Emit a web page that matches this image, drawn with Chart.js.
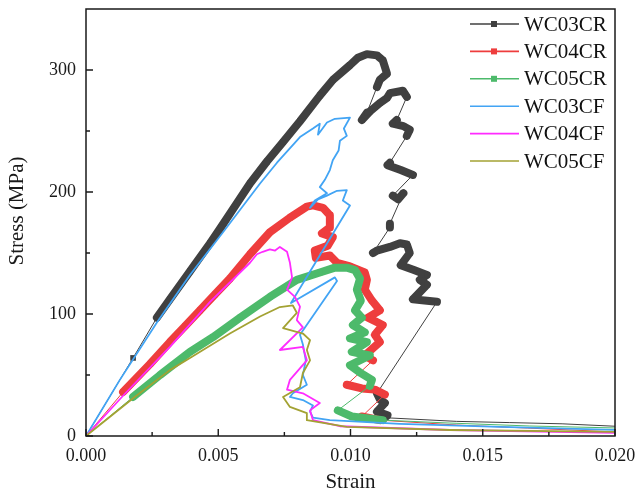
<!DOCTYPE html>
<html>
<head>
<meta charset="utf-8">
<script src="https://cdn.jsdelivr.net/npm/chart.js@4.4.0/dist/chart.umd.min.js"></script>
<style>
  html, body { margin: 0; padding: 0; background: #fff; }
  #wrap { width: 639px; height: 496px; }
</style>
</head>
<body>
<div id="wrap"><canvas id="chart" width="639" height="496"></canvas></div>
<script>
// ---- data (strain, stress in MPa) ----
var seriesNames = ['WC03CR', 'WC04CR', 'WC05CR', 'WC03CF', 'WC04CF', 'WC05CF'];

var wc03crStrain = [0, 0.00178, 0.00268, 0.00317, 0.00393, 0.00469, 0.0051, 0.00556, 0.0062, 0.00684, 0.00745, 0.00809, 0.00884, 0.00934, 0.00998, 0.01028, 0.01062, 0.0110, 0.01122, 0.01138, 0.01111, 0.0110,
  0.01062, 0.01043, 0.01073, 0.01111, 0.01138, 0.01149, 0.01198, 0.01213,
  0.01175, 0.0116, 0.0120, 0.01224, 0.01213,
  0.01149, 0.0114, 0.0119, 0.01236,
  0.0116, 0.0118, 0.0120,
  0.01149, 0.01149,
  0.01085, 0.0110, 0.01149, 0.01187, 0.01213, 0.01224, 0.0119, 0.0124, 0.01289, 0.01262, 0.01289, 0.01236, 0.0128, 0.01327,
  0.0110, 0.01111, 0.0113, 0.0110, 0.0114, 0.0113, 0.0140, 0.016, 0.018, 0.020];
var wc03crStress = [0, 64, 97, 112, 135, 158, 171, 186, 207, 225, 241, 258, 279, 292, 304, 310, 313, 312, 308, 297, 292, 286,
  265, 259, 266, 273, 277, 281, 283, 278,
  259, 256, 254, 251, 246,
  224, 222, 218, 214,
  197, 194, 199,
  174, 171,
  150, 152, 155, 158, 157, 150, 140, 136, 132, 128, 124, 112, 111, 110,
  35, 30, 27, 20, 17, 15, 12, 11, 10, 8];

var wc04crStrain = [0, 0.0014, 0.00242, 0.00317, 0.00374, 0.00431, 0.00487, 0.00544, 0.0062, 0.00695, 0.00771, 0.00835, 0.00858,
  0.00896, 0.00922, 0.00922, 0.00892, 0.00933, 0.00914, 0.00865, 0.00869, 0.00922, 0.00949, 0.00998, 0.01054, 0.01062, 0.01054,
  0.01081, 0.01111, 0.01066, 0.01122, 0.01092, 0.01111, 0.01054, 0.01085,
  0.00986, 0.01043, 0.01092, 0.0113,
  0.01043, 0.01111, 0.0140, 0.0167, 0.020];
var wc04crStress = [0, 36, 59, 77, 90, 103, 116, 129, 149, 167, 179, 188, 189,
  187, 181, 171, 166, 163, 156, 152, 146, 148, 142, 139, 134, 128, 120,
  111, 103, 97, 91, 83, 77, 66, 62,
  42, 39, 38, 34,
  16, 13, 9, 6.5, 3.3];

var wc05crStrain = [0, 0.00178, 0.0028, 0.00393, 0.0048, 0.00582, 0.00695, 0.00797, 0.00884, 0.00941, 0.00986, 0.01017, 0.01036,
  0.01024, 0.01039, 0.01017, 0.01043, 0.01009, 0.01054, 0.00998, 0.01062, 0.01005, 0.01073, 0.00998, 0.01036, 0.01081, 0.01073,
  0.00952, 0.01005, 0.01122, 0.01376, 0.01678, 0.020];
var wc05crStress = [0, 32, 50, 69, 81, 97, 114, 128, 134, 138, 138, 136, 129,
  120, 111, 103, 97, 91, 85, 80, 77, 69, 66, 58, 52, 46, 41,
  21, 16, 13, 10.6, 8.2, 6.6];

var wc03cfStrain = [0, 0.00128, 0.00268, 0.00393, 0.00518, 0.00658, 0.00722, 0.00809, 0.00858, 0.00884, 0.00877, 0.00911, 0.00941, 0.00998,
  0.00975, 0.00986, 0.0096, 0.00955, 0.00933, 0.00922, 0.00903, 0.00884, 0.00911, 0.00865, 0.00847,
  0.00877, 0.00911, 0.00949, 0.00986, 0.00971, 0.00998,
  0.00775, 0.00941, 0.00949,
  0.00809, 0.0082, 0.00831, 0.0082, 0.00835, 0.00782, 0.00771, 0.0082, 0.00858, 0.00847, 0.00858, 0.00922, 0.01187, 0.01565, 0.020];
var wc03cfStress = [0, 46, 93, 132, 167, 207, 224, 245, 252, 256, 247, 257, 260, 261,
  252, 246, 242, 234, 226, 218, 210, 204, 199, 193, 187,
  194, 197, 201, 201.5, 193, 189,
  109, 130, 127,
  83, 75, 62, 50, 42, 35, 32, 29.5, 25, 20, 15, 13, 10, 7.4, 5];

var wc04cfStrain = [0, 0.0014, 0.00317, 0.00469, 0.0062, 0.00646, 0.00668, 0.00695, 0.00715, 0.00733, 0.0076, 0.00771, 0.00779, 0.0076, 0.0079,
  0.00809, 0.00797, 0.0082, 0.00733, 0.0082, 0.00835, 0.00771, 0.0076, 0.0082, 0.00884, 0.00847, 0.00858, 0.0096, 0.01376, 0.020];
var wc04cfStress = [0, 33, 73, 110, 142, 149, 151, 153, 152, 155, 151, 142, 130, 120, 114,
  106, 95, 89, 70.5, 73, 62, 46, 38, 35, 27, 21, 13, 8, 4.9, 2.5];

var wc05cfStrain = [0, 0.00178, 0.00317, 0.00393, 0.00544, 0.00658, 0.00733, 0.00782, 0.00797, 0.00745, 0.0082, 0.00847, 0.00835,
  0.00847, 0.0082, 0.00809, 0.00745, 0.00771, 0.00835, 0.00835, 0.00986, 0.01376, 0.020];
var wc05cfStress = [0, 31, 54, 64, 84, 98, 105.7, 107, 101, 88.5, 84, 78.6, 70.5,
  62, 51.6, 40, 32, 23.8, 18.8, 13, 7.4, 4.9, 3.3];

var xTicks = [0, 0.005, 0.010, 0.015, 0.020];
var xMinorTicks = [0.0025, 0.0075, 0.0125, 0.0175];
var yTicks = [0, 100, 200, 300];
var yMinorTicks = [50, 150, 250];

// ---- styling ----
var colors = ['#404040', '#ee3d3d', '#4dba6b', '#42a4f4', '#ff2bff', '#a3a233'];
var serif = "'Liberation Serif', 'Times New Roman', serif";

function pts(xs, ys) {
  return xs.map(function(x, i) { return { x: x, y: ys[i] }; });
}

// dense parts of the CR curves show as a thick band of markers,
// the big unloading jumps are only the thin connecting line
function bandWidth(c) {
  if (c.p0DataIndex === 0) return 1;
  var dx = c.p1.x - c.p0.x, dy = c.p1.y - c.p0.y;
  if (dy > 16 || Math.sqrt(dx * dx + dy * dy) > 45) return 1;
  return 8;
}

// no visible markers on the long residual tail
function markerSize(c) {
  var p = c.raw;
  return p && p.x > 0.0135 ? 0 : 4;
}

var allData = [
  pts(wc03crStrain, wc03crStress),
  pts(wc04crStrain, wc04crStress),
  pts(wc05crStrain, wc05crStress),
  pts(wc03cfStrain, wc03cfStress),
  pts(wc04cfStrain, wc04cfStress),
  pts(wc05cfStrain, wc05cfStress)
];

var datasets = seriesNames.map(function(name, i) {
  var isCR = i < 3;
  return {
    label: name,
    data: allData[i],
    showLine: true,
    borderColor: colors[i],
    backgroundColor: colors[i],
    borderWidth: isCR ? 1 : 1.8,
    borderJoinStyle: 'round',
    borderCapStyle: 'round',
    pointStyle: 'rect',
    pointRadius: isCR ? markerSize : 0,
    pointBorderWidth: 0,
    pointBackgroundColor: colors[i],
    pointHoverRadius: 0,
    tension: 0,
    order: 6 - i,
    segment: isCR ? { borderWidth: bandWidth } : undefined
  };
});

// box frame, inward ticks, y title
var framePlugin = {
  id: 'frame',
  afterDraw: function(chart) {
    var ctx = chart.ctx, a = chart.chartArea;
    var xs = chart.scales.x, ys = chart.scales.y;
    ctx.save();
    ctx.strokeStyle = '#1a1a1a';
    ctx.lineWidth = 1.5;
    ctx.strokeRect(a.left, a.top, a.right - a.left, a.bottom - a.top);
    ctx.lineWidth = 1.4;
    ctx.beginPath();
    xTicks.forEach(function(v) {
      var px = xs.getPixelForValue(v);
      ctx.moveTo(px, a.bottom); ctx.lineTo(px, a.bottom - 7);
    });
    xMinorTicks.forEach(function(v) {
      var px = xs.getPixelForValue(v);
      ctx.moveTo(px, a.bottom); ctx.lineTo(px, a.bottom - 4);
    });
    yTicks.forEach(function(v) {
      var py = ys.getPixelForValue(v);
      ctx.moveTo(a.left, py); ctx.lineTo(a.left + 7, py);
    });
    yMinorTicks.forEach(function(v) {
      var py = ys.getPixelForValue(v);
      ctx.moveTo(a.left, py); ctx.lineTo(a.left + 4, py);
    });
    ctx.stroke();

    // y axis title sits a little above the middle in the original
    ctx.translate(17, 211);
    ctx.rotate(-Math.PI / 2);
    ctx.font = '21px ' + serif;
    ctx.fillStyle = '#1a1a1a';
    ctx.textAlign = 'center';
    ctx.textBaseline = 'middle';
    ctx.fillText('Stress (MPa)', 0, 0);
    ctx.restore();
  }
};

// legend drawn inside the plot, top right (line + marker like the original)
var legendPlugin = {
  id: 'insideLegend',
  afterDraw: function(chart) {
    var ctx = chart.ctx;
    ctx.save();
    ctx.font = '21px ' + serif;
    ctx.textBaseline = 'middle';
    ctx.textAlign = 'left';
    chart.data.datasets.forEach(function(ds, i) {
      var y = 24 + i * 27.4;
      ctx.strokeStyle = ds.borderColor;
      ctx.lineWidth = 1.6;
      ctx.beginPath();
      ctx.moveTo(470, y); ctx.lineTo(519, y);
      ctx.stroke();
      if (i < 3) {
        ctx.fillStyle = ds.borderColor;
        ctx.fillRect(491, y - 3, 6, 6);
      }
      ctx.fillStyle = '#111';
      ctx.fillText(ds.label, 524, y + 1);
    });
    ctx.restore();
  }
};

var chart = new Chart(document.getElementById('chart'), {
  type: 'scatter',
  data: { datasets: datasets },
  options: {
    responsive: false,
    animation: false,
    events: [],
    layout: { padding: { left: 0, top: 9, right: 24, bottom: 0 } },
    plugins: {
      legend: { display: false },
      tooltip: { enabled: false }
    },
    scales: {
      x: {
        type: 'linear',
        min: 0,
        max: 0.02,
        afterBuildTicks: function(scale) {
          scale.ticks = xTicks.map(function(v) { return { value: v }; });
        },
        afterFit: function(scale) {
          scale.height = 60;
          scale.paddingLeft = 0;
          scale.paddingRight = 0;
        },
        grid: { display: false, drawTicks: false },
        border: { display: false },
        ticks: {
          padding: 9,
          color: '#1a1a1a',
          font: { family: serif, size: 18 },
          maxRotation: 0,
          callback: function(v) { return Number(v).toFixed(3); }
        },
        title: {
          display: true,
          text: 'Strain',
          color: '#1a1a1a',
          font: { family: serif, size: 21 },
          padding: { top: 0, bottom: 1 }
        }
      },
      y: {
        type: 'linear',
        min: 0,
        max: 350,
        afterBuildTicks: function(scale) {
          scale.ticks = yTicks.map(function(v) { return { value: v }; });
        },
        afterFit: function(scale) {
          scale.width = 86;
          scale.paddingTop = 0;
          scale.paddingBottom = 0;
        },
        grid: { display: false, drawTicks: false },
        border: { display: false },
        ticks: {
          padding: 10,
          color: '#1a1a1a',
          font: { family: serif, size: 18 }
        },
        title: { display: false }
      }
    }
  },
  plugins: [framePlugin, legendPlugin]
});
</script>
</body>
</html>
